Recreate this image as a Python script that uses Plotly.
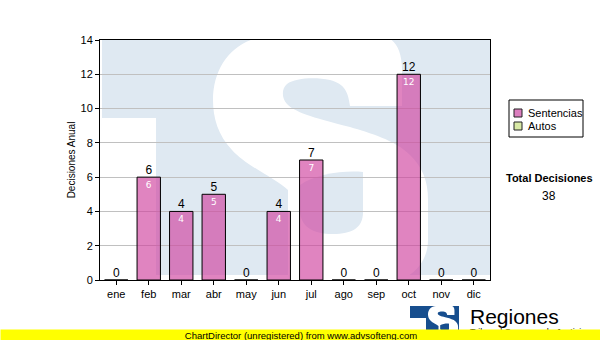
import base64
import plotly.graph_objects as go

# ---------------- data ----------------
months = ["ene", "feb", "mar", "abr", "may", "jun", "jul", "ago", "sep", "oct", "nov", "dic"]
sentencias = [0, 6, 4, 5, 0, 4, 7, 0, 0, 12, 0, 0]
autos = [0, 0, 0, 0, 0, 0, 0, 0, 0, 0, 0, 0]
y_ticks = [0, 2, 4, 6, 8, 10, 12, 14]
y_title = "Decisiones Anual"
total_label = "Total Decisiones"
series_names = ["Sentencias", "Autos"]
series_colors = ["#dc7fbf", "#d9eaa6"]

# ---------------- geometry helpers ----------------
W, H = 600, 340
ML, MR, MT, MB = 100, 110, 40, 60
PW, PH = W - ML - MR, H - MT - MB


def px(x):
    return (x - ML) / PW


def py(y):
    return (H - MB - y) / PH


# ---------------- watermark / logo (decoration) ----------------
S_PATH = ("M 213 100 C 213 65 235 38 270 36 L 385 36 C 395 40 402 50 402 70 L 402 106 L 350 106 "
          "C 348 92 345 84 330 80 C 315 77 295 78 287 84 C 281 89 282 99 287 104 "
          "C 295 112 310 117 350 127 C 370 133 395 140 410 155 C 422 167 428 180 428 200 "
          "L 428 240 C 428 262 412 282 380 285 L 288 285 L 288 190 "
          "C 275 178 245 165 232 150 C 218 135 213 118 213 100 Z")
COUNTER = ("M 300 185 C 315 174 345 170 363 172 L 363 212 C 363 228 352 234 333 234 "
           "C 312 234 300 226 300 210 Z")

WM_BLUE = "#dfe9f2"
wm_svg = (
    '<svg xmlns="http://www.w3.org/2000/svg" width="390" height="240" '
    'viewBox="100 40 390 240" preserveAspectRatio="none">'
    f'<rect x="102" y="40" width="400" height="235" fill="{WM_BLUE}"/>'
    '<rect x="100" y="118" width="56" height="170" fill="#ffffff"/>'
    f'<path d="{S_PATH}" fill="#ffffff"/>'
    f'<path d="{COUNTER}" fill="{WM_BLUE}"/>'
    '</svg>'
)

LOGO_BLUE = "#174e8e"
logo_svg = (
    '<svg xmlns="http://www.w3.org/2000/svg" width="60" height="40" '
    'viewBox="405 300 60 40" preserveAspectRatio="none">'
    f'<rect x="410" y="306" width="49" height="40" fill="{LOGO_BLUE}"/>'
    '<rect x="408" y="318" width="18" height="30" fill="#ffffff"/>'
    '<g transform="translate(428,306) scale(0.14,0.13) translate(-213,-36)">'
    f'<path d="{S_PATH}" fill="#ffffff"/>'
    f'<path d="{COUNTER}" fill="{LOGO_BLUE}"/>'
    '</g></svg>'
)


def data_uri(svg):
    return "data:image/svg+xml;base64," + base64.b64encode(svg.encode("utf-8")).decode("ascii")


# ---------------- figure ----------------
fig = go.Figure()

fig.add_trace(go.Bar(
    x=months, y=sentencias, name=series_names[0], showlegend=False,
    marker=dict(color="rgba(208,66,158,0.65)", line=dict(color="black", width=1)),
    text=[str(v) if v else "" for v in sentencias],
    textposition="inside", insidetextanchor="end", textangle=0,
    constraintext="none",
    textfont=dict(size=9, color="white", family="DejaVu Sans"),
    hoverinfo="skip",
))
fig.add_trace(go.Bar(
    x=months, y=autos, name=series_names[1], showlegend=False,
    marker=dict(color=series_colors[1], line=dict(color="black", width=0)),
    hoverinfo="skip",
))
fig.add_trace(go.Scatter(
    x=months, y=sentencias, mode="text",
    text=[str(v) for v in sentencias], textposition="top center",
    textfont=dict(size=12, color="black", family="Liberation Sans"),
    showlegend=False, cliponaxis=False, hoverinfo="skip",
))

axis_font = dict(size=11, color="black", family="Liberation Sans")

# manual legend box (ChartDirector style)
shapes = [
    dict(type="rect", xref="paper", yref="paper",
         x0=px(509), x1=px(583), y0=py(100), y1=py(137),
         line=dict(color="black", width=1), fillcolor="white", layer="above"),
]
annotations = []
for i, (nm, col) in enumerate(zip(series_names, series_colors)):
    cy = 113 + 13 * i
    shapes.append(dict(type="rect", xref="paper", yref="paper",
                       x0=px(514), x1=px(522), y0=py(cy - 4), y1=py(cy + 4),
                       line=dict(color="#222222", width=1), fillcolor=col, layer="above"))
    annotations.append(dict(text=nm, x=px(526), y=py(cy), xref="paper", yref="paper",
                            showarrow=False, xanchor="left", yanchor="middle",
                            font=dict(size=11, color="black", family="Liberation Sans")))

annotations += [
    dict(text="<b>" + total_label + "</b>", x=px(549), y=py(178), xref="paper", yref="paper",
         showarrow=False, xanchor="center", yanchor="middle",
         font=dict(size=11, color="black", family="Liberation Sans")),
    dict(text=str(sum(sentencias) + sum(autos)), x=px(549), y=py(196), xref="paper", yref="paper",
         showarrow=False, xanchor="center", yanchor="middle",
         font=dict(size=12, color="black", family="Liberation Sans")),
    dict(text="Regiones", x=px(468), y=py(316), xref="paper", yref="paper",
         showarrow=False, xanchor="left", yanchor="middle",
         font=dict(size=21, color="black", family="Liberation Sans")),
    dict(text="Tribunal Supremo de Justicia", x=px(468), y=py(325), xref="paper", yref="paper",
         showarrow=False, xanchor="left", yanchor="top",
         font=dict(size=9, color="black", family="Liberation Sans")),
    dict(text="ChartDirector (unregistered) from www.advsofteng.com",
         x=px(301), y=py(335), xref="paper", yref="paper",
         showarrow=False, xanchor="center", yanchor="middle",
         bgcolor="#ffff00", width=600, height=10, borderpad=0,
         font=dict(size=9.5, color="black", family="Liberation Sans")),
]

fig.update_layout(
    width=W, height=H, autosize=False,
    margin=dict(l=ML, r=MR, t=MT, b=MB, pad=0),
    paper_bgcolor="white", plot_bgcolor="white",
    barmode="overlay", bargap=0.28, showlegend=False,
    font=dict(family="Liberation Sans", color="black"),
    xaxis=dict(
        type="category", range=[-0.5, 11.5],
        showline=True, linecolor="black", linewidth=1, mirror=True,
        ticks="outside", ticklen=4, tickcolor="black",
        tickfont=axis_font, showgrid=False, fixedrange=True,
    ),
    yaxis=dict(
        range=[0, 14], tickvals=y_ticks,
        showline=True, linecolor="black", linewidth=1, mirror=True,
        ticks="outside", ticklen=4, tickcolor="black",
        tickfont=axis_font, gridcolor="#c0c0c0", gridwidth=1,
        zeroline=False, fixedrange=True,
        title=dict(text=y_title, font=dict(size=10, color="black", family="Liberation Sans"),
                   standoff=3),
    ),
    shapes=shapes,
    images=[
        dict(source=data_uri(wm_svg), xref="paper", yref="paper",
             x=0, y=1, sizex=1, sizey=1, xanchor="left", yanchor="top",
             sizing="stretch", layer="below"),
        dict(source=data_uri(logo_svg), xref="paper", yref="paper",
             x=px(405), y=py(300), sizex=60 / PW, sizey=40 / PH,
             xanchor="left", yanchor="top", sizing="stretch", layer="below"),
    ],
    annotations=annotations,
)

fig.write_html("out.html")
